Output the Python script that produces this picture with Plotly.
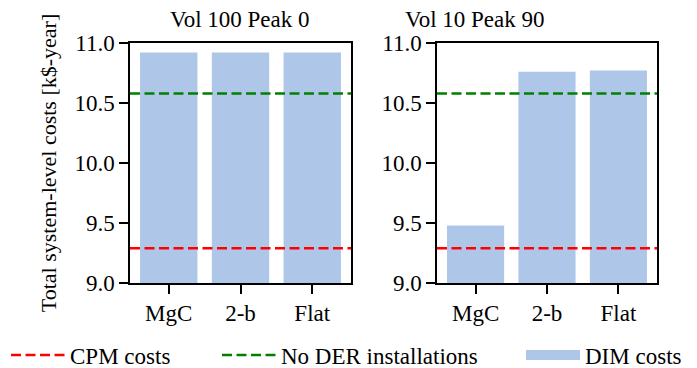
import plotly.graph_objects as go
from plotly.subplots import make_subplots

categories = ["MgC", "2-b", "Flat"]
panel_titles = ["Vol 100 Peak 0", "Vol 10 Peak 90"]
dim_costs_left = [10.92, 10.92, 10.92]
dim_costs_right = [9.48, 10.76, 10.77]
cpm_cost = 9.29
no_der_cost = 10.58
y_ticks = [9.0, 9.5, 10.0, 10.5, 11.0]
y_tick_labels = ["9.0", "9.5", "10.0", "10.5", "11.0"]
x_range = [-0.54, 2.54]

FONT = "Liberation Serif"
FS = 23
BAR_COLOR = "#aec7e8"
DASH = "10px,4.5px"

# the page body has an 8px margin; size the figure so it fills the window
OFF = 8
W, H = 697 - OFF, 368 - OFF


def px_x(x):
    return (x - OFF) / W


def px_y(y):
    return (H - (y - OFF)) / H


fig = make_subplots(rows=1, cols=2)

for i, vals in enumerate([dim_costs_left, dim_costs_right]):
    col = i + 1
    first = (i == 0)
    fig.add_trace(go.Bar(x=[0, 1, 2], y=vals, width=0.8,
                         marker=dict(color=BAR_COLOR, line=dict(width=0)),
                         name="DIM costs", showlegend=False), row=1, col=col)
    fig.add_trace(go.Scatter(x=x_range, y=[cpm_cost, cpm_cost], mode="lines",
                             line=dict(color="#ff0000", width=2.5, dash=DASH),
                             name="CPM costs", showlegend=first, legend="legend"), row=1, col=col)
    fig.add_trace(go.Scatter(x=x_range, y=[no_der_cost, no_der_cost], mode="lines",
                             line=dict(color="#008000", width=2.5, dash=DASH),
                             name="No DER installations", showlegend=first, legend="legend2"), row=1, col=col)

# legend patch for the bars (like a matplotlib Patch proxy)
fig.add_trace(go.Scatter(x=[None], y=[None], mode="lines",
                         line=dict(color=BAR_COLOR, width=13),
                         name="DIM costs", showlegend=True, legend="legend3"), row=1, col=1)

x_domains = [[px_x(130), px_x(351)], [px_x(437), px_x(657)]]
y_domain = [px_y(283), px_y(43)]

axis_common = dict(showline=True, linecolor="black", linewidth=1.5, mirror=True,
                   ticks="outside", ticklen=9, tickwidth=1.5, tickcolor="black",
                   showgrid=False, zeroline=False,
                   tickfont=dict(family=FONT, size=FS, color="black"))

for i in range(2):
    sfx = "" if i == 0 else "2"
    fig.layout["xaxis" + sfx].update(domain=x_domains[i], range=x_range,
                                     tickvals=[0, 1, 2], ticktext=categories, **axis_common)
    fig.layout["yaxis" + sfx].update(domain=y_domain, range=[9.0, 11.0],
                                     tickvals=y_ticks, ticktext=y_tick_labels, **axis_common)
    fig.add_annotation(x=sum(x_domains[i]) / 2, y=px_y(19), xref="paper", yref="paper",
                       text=panel_titles[i], showarrow=False,
                       font=dict(family=FONT, size=FS, color="black"), yanchor="middle")

fig.layout.yaxis.update(title=dict(text="Total system-level costs [k$-year]",
                                   font=dict(family=FONT, size=22, color="black"), standoff=12))

leg_common = dict(orientation="h", xanchor="left", yanchor="middle", y=px_y(355),
                  font=dict(family=FONT, size=FS, color="black"), itemwidth=54,
                  bgcolor="rgba(0,0,0,0)")

fig.update_layout(
    width=W, height=H, margin=dict(l=0, r=0, t=0, b=0, autoexpand=False),
    paper_bgcolor="white", plot_bgcolor="white",
    font=dict(family=FONT, size=FS, color="black"),
    legend=dict(x=px_x(6), **leg_common),
    legend2=dict(x=px_x(217), **leg_common),
    legend3=dict(x=px_x(521), **leg_common),
)

fig.write_html("out.html")
